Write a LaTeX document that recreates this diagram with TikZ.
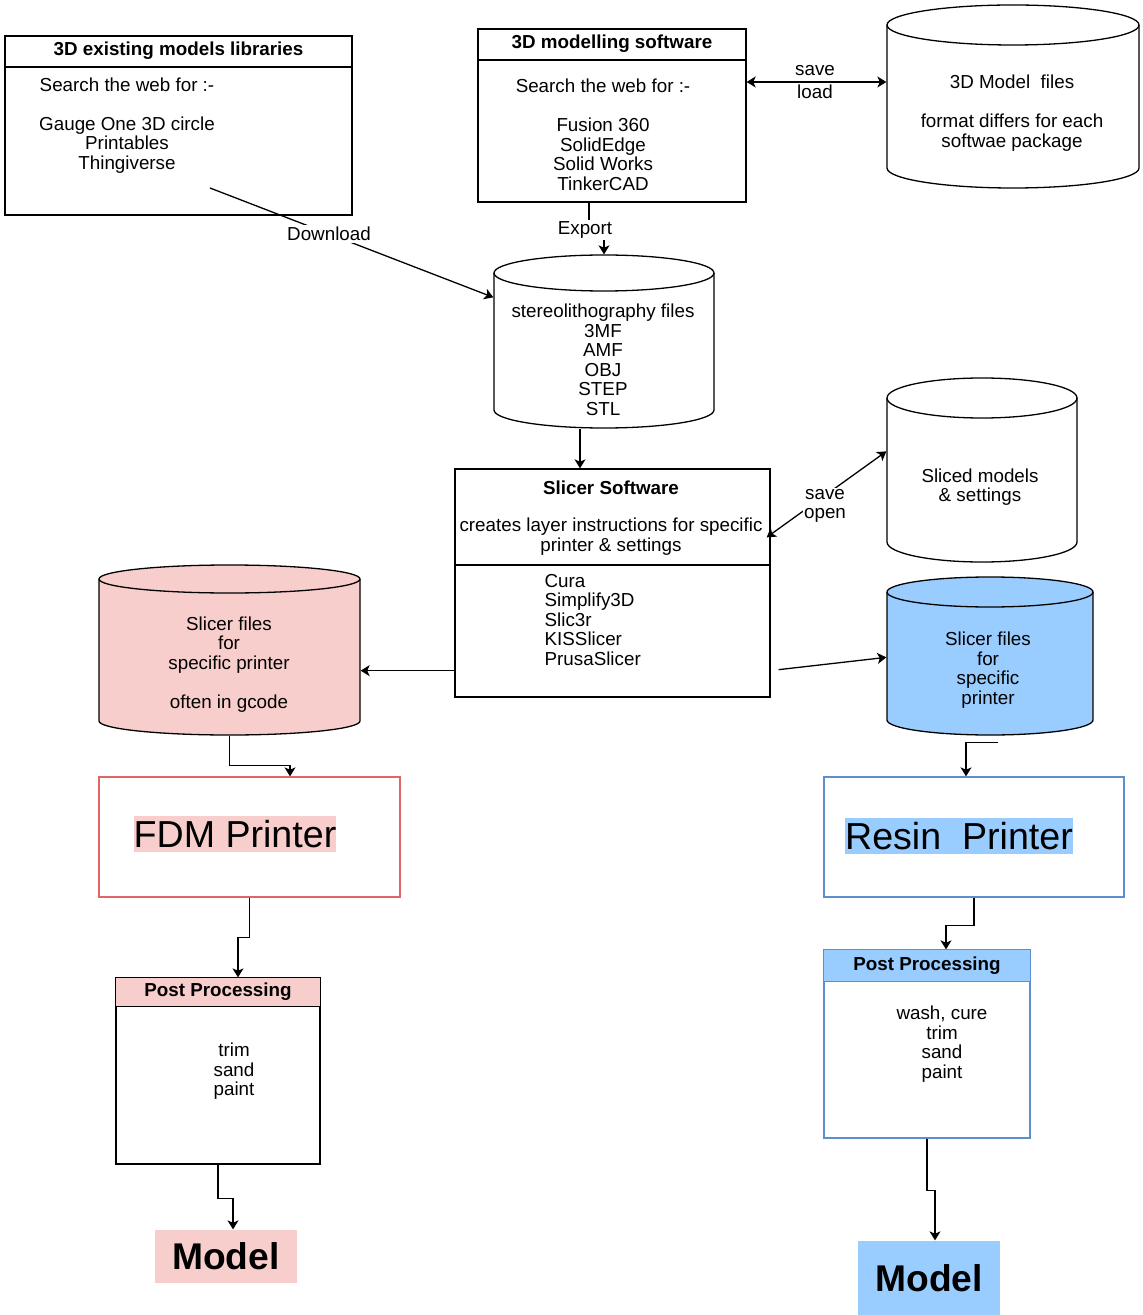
\documentclass[tikz,border=0pt]{standalone}
\usepackage{fontspec}
\setmainfont{Liberation Sans}
\usetikzlibrary{arrows.meta, calc, fit}

\definecolor{pinkfill}{HTML}{F8CECC}
\definecolor{bluefill}{HTML}{99CCFF}
\definecolor{fdmred}{HTML}{E06666}
\definecolor{resinblue}{HTML}{5B8FD0}

% Storage drum: name, left, right, top, bottom, lid radius, fill
\newcommand{\drum}[7]{%
  \pgfmathsetmacro\drumrx{(#3-#2)/2}
  \draw[fill=#7] (#2,{-#4-#6}) -- (#2,{-#5+#6})
    arc[start angle=180, end angle=360, x radius=\drumrx, y radius=#6]
    -- (#3,{-#4-#6})
    arc[start angle=0, end angle=180, x radius=\drumrx, y radius=#6] -- cycle;
  \draw (#2,{-#4-#6}) arc[start angle=180, end angle=360, x radius=\drumrx, y radius=#6];
  \node[fit={(#2,-#4) (#3,-#5)}, inner sep=0pt] (#1) {};
}

\begin{document}
\begin{tikzpicture}[x=0.5pt, y=0.5pt, line width=0.65pt,
  >={Stealth[length=4.5pt,width=5.5pt,inset=1.2pt]},
  every node/.style={font=\fontsize{9.4}{9.75}\selectfont, align=center},
  head/.style={font=\fontsize{9.4}{9.75}\selectfont\bfseries},
  big/.style={font=\fontsize{18.8}{20}\selectfont, inner xsep=0pt, inner ysep=2pt},
  bigbold/.style={font=\fontsize{18.6}{20}\selectfont\bfseries},
  box/.style={draw, inner sep=0pt},
  px size/.style 2 args={minimum width=#1*0.5pt, minimum height=#2*0.5pt}]
\useasboundingbox (0,0) rectangle (1142,-1315);
% Libraries box with header
\node[box, px size={347}{179}] (lib) at (178.5,-125.5) {};
\draw (lib.north west |- 0,-67) -- (lib.north east |- 0,-67);
\node[head] (libtitle) at (178.5,-51) {3D existing models libraries};
\node (libtext) at (127,-125.5) {Search the web for :-\\[9.75pt]Gauge One 3D circle\\Printables\\Thingiverse};
% Modelling software box
\node[box, px size={268}{173}] (soft) at (612,-115.5) {};
\draw (soft.north west |- 0,-60) -- (soft.north east |- 0,-60);
\node[head] (softtitle) at (612,-44) {3D modelling software};
\node (softtext) at (603,-135) {Search the web for :-\\[9.75pt]Fusion 360\\SolidEdge\\Solid Works\\TinkerCAD};
% 3D model files
\drum{models}{887}{1139}{5}{188}{20}{white}
\node (modelstext) at (1012,-113) {3D Model\ \ files\\[9.75pt]format differs for each\\softwae package};
\node (saveload) at (815,-82) {save\\[1.5pt]load};
\draw[<->] (soft.east |- saveload) -- (models.west |- saveload);
% Exported files
\drum{stl}{494}{714}{255}{428}{18}{white}
\node (stltext) at (603,-360) {stereolithography files\\3MF\\AMF\\OBJ\\STEP\\STL};
\draw[->] ([xshift=-11.5pt]soft.south) -- ++(0,-28) -| (stl.north);
\node[fill=white, inner sep=1pt] (export) at (585,-230) {Export};
% Download from the libraries
\coordinate (dlstart) at (210,-188);
\draw[->] (dlstart) -- node[pos=.42, fill=white, inner sep=1pt] (download) {Download} ($(stl.north west)+(0,-43)$);
% Slicer box
\node[box, px size={315}{228}] (slicer) at (612.5,-583) {};
\draw (slicer.north west |- 0,-565) -- (slicer.north east |- 0,-565);
\node[head] (slicertitle) at (611,-488) {Slicer Software};
\node (slicertext) at (611,-536.5) {creates layer instructions for specific\\printer \& settings};
\node[align=left, anchor=west, inner xsep=0pt] (slicerlist) at (544,-620) {Cura\\Simplify3D\\Slic3r\\KISSlicer\\PrusaSlicer};
\draw[->] ([xshift=-12pt]stl.south) -- ([xshift=-12pt]stl.south |- slicer.north);
% Sliced models
\drum{sliced}{887}{1077}{378}{562}{20}{white}
\node (slicedtext) at (980,-487) {Sliced models\\\& settings};
\draw[<->] ($(slicer.north east)+(-4,-69)$) -- ($(sliced.north west)+(0,-74)$);
\node[fill=white, inner sep=0.5pt] (saveopen) at (825,-506) {save\\open};
% Printer files
\drum{fdmfiles}{99}{360}{565}{735}{14}{pinkfill}
\node (fdmfilestext) at (229,-664.5) {Slicer files\\for\\specific printer\\[9.75pt]often in gcode};
\draw[->] ($(slicer.south west)+(0,27)$) coordinate (tofdm) -- (fdmfiles.east |- tofdm);
\drum{resinfiles}{887}{1093}{577}{735}{15}{bluefill}
\node (resinfilestext) at (988,-670) {Slicer files\\for\\specific\\printer};
\draw[->] ($(slicer.south east)+(8,28)$) -- ($(resinfiles.north west)+(0,-81)$);
% Printers
\node[box, draw=fdmred, px size={301}{120}] (fdm) at (249.5,-837) {};
\node[big, fill=pinkfill] (fdmlabel) at (235,-834) {FDM Printer};
\draw[->] (fdmfiles.south) -- ++(0,-30) -| ($(fdm.north)+(40.5,0)$);
\node[box, draw=resinblue, px size={300}{120}] (resin) at (974,-837) {};
\node[big, fill=bluefill] (resinlabel) at (959,-836) {Resin\ \ Printer};
\draw[->] ($(resinfiles.south)+(8,-7)$) -| ($(resin.north)+(-8,0)$);
% Post processing
\node[box, px size={204}{186}] (postfdm) at (218,-1071) {};
\filldraw[fill=pinkfill] (postfdm.north west) rectangle ($(postfdm.north east)+(0,-29)$);
\node[head] (postfdmtitle) at (218,-992) {Post Processing};
\node (postfdmtext) at (234,-1071.5) {trim\\sand\\paint};
\draw[->] (fdm.south) -- ++(0,-40) -| ($(postfdm.north)+(20,0)$);
\node[box, draw=resinblue, px size={206}{188}] (postresin) at (927,-1044) {};
\filldraw[fill=bluefill, draw=resinblue] (postresin.north west) rectangle ($(postresin.north east)+(0,-32)$);
\node[head] (postresintitle) at (927,-966) {Post Processing};
\node (postresintext) at (942,-1044) {wash, cure\\trim\\sand\\paint};
\draw[->] (resin.south) -- ++(0,-28) -| ($(postresin.north)+(19,0)$);
% Finished models
\node[bigbold, fill=pinkfill, px size={142}{53}] (modelfdm) at (226,-1256.5) {Model};
\draw[->] (postfdm.south) -- ++(0,-34) -| ($(modelfdm.north)+(7,0)$);
\node[bigbold, fill=bluefill, px size={142}{74}] (modelresin) at (929,-1278) {Model};
\draw[->] (postresin.south) -- ++(0,-52) -| ($(modelresin.north)+(6,0)$);
\end{tikzpicture}
\end{document}
